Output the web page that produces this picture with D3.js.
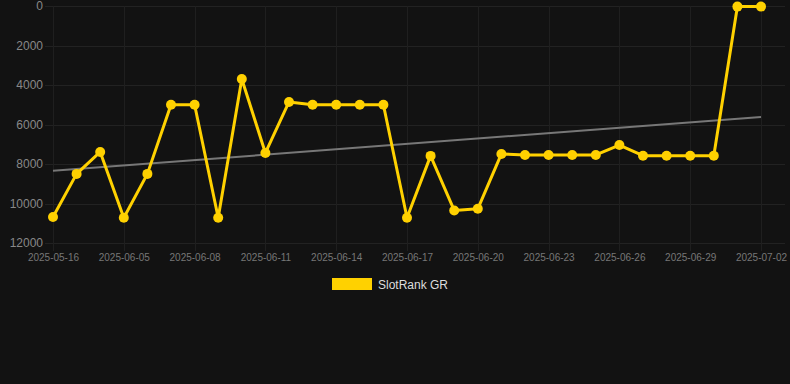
<!DOCTYPE html>
<html>
<head>
<meta charset="utf-8">
<script src="https://cdn.jsdelivr.net/npm/d3@7"></script>
<style>
  html, body { margin: 0; padding: 0; background: #121212; }
  svg { display: block; font-family: Arial, "Liberation Sans", sans-serif; }
</style>
</head>
<body>
<svg width="790" height="384"></svg>
<script>
// dates on the x axis (one per point)
var dates = ["2025-05-16", "2025-06-03", "2025-06-04", "2025-06-05", "2025-06-06", "2025-06-07",
  "2025-06-08", "2025-06-09", "2025-06-10", "2025-06-11", "2025-06-12", "2025-06-13",
  "2025-06-14", "2025-06-15", "2025-06-16", "2025-06-17", "2025-06-18", "2025-06-19",
  "2025-06-20", "2025-06-21", "2025-06-22", "2025-06-23", "2025-06-24", "2025-06-25",
  "2025-06-26", "2025-06-27", "2025-06-28", "2025-06-29", "2025-06-30", "2025-07-01",
  "2025-07-02"];

// rank values
var ranks = [10680, 8500, 7390, 10720, 8500, 5000, 5000, 10720, 3700, 7440, 4860, 5000,
  5000, 5000, 5000, 10720, 7590, 10350, 10270, 7490, 7540, 7540, 7540, 7540, 7040,
  7580, 7580, 7580, 7580, 30, 30];

var yTicks = [0, 2000, 4000, 6000, 8000, 10000, 12000];
var seriesName = "SlotRank GR";

var svg = d3.select("svg");
var plotLeft = 45, plotRight = 785, plotTop = 6, plotBottom = 243;

var x = d3.scalePoint().domain(dates).range([53, 761]);
var y = d3.scaleLinear().domain([0, 12000]).range([plotTop, plotBottom]);

var tickDates = dates.filter(function(d, i) { return i % 3 === 0; });

// horizontal grid
svg.append("g").selectAll("line")
  .data(yTicks).enter().append("line")
  .attr("x1", plotLeft).attr("x2", plotRight)
  .attr("y1", function(d) { return Math.round(y(d)) + 0.5; })
  .attr("y2", function(d) { return Math.round(y(d)) + 0.5; })
  .attr("stroke", "#222").attr("stroke-width", 1);

// vertical grid
svg.append("g").selectAll("line")
  .data(tickDates).enter().append("line")
  .attr("x1", function(d) { return Math.round(x(d)) + 0.5; })
  .attr("x2", function(d) { return Math.round(x(d)) + 0.5; })
  .attr("y1", plotTop).attr("y2", plotBottom + 8)
  .attr("stroke", "#1f1f1f").attr("stroke-width", 1);

// y axis labels
var yAxis = svg.append("g")
  .attr("transform", "translate(" + (plotLeft - 2) + ",0)")
  .call(d3.axisLeft(y).tickValues(yTicks).tickSize(0).tickPadding(0).tickFormat(d3.format("d")));
yAxis.select(".domain").remove();
yAxis.selectAll("text").attr("fill", "#888").style("font-size", "12px")
  .style("font-family", "Arial, 'Liberation Sans', sans-serif");

// x axis labels
var xAxis = svg.append("g")
  .attr("transform", "translate(0," + plotBottom + ")")
  .call(d3.axisBottom(x).tickValues(tickDates).tickSize(0).tickPadding(11));
xAxis.select(".domain").remove();
xAxis.selectAll("text").attr("fill", "#777").style("font-size", "10px")
  .style("font-family", "Arial, 'Liberation Sans', sans-serif");

// least squares trend line
var n = ranks.length;
var mx = d3.mean(ranks, function(d, i) { return i; });
var my = d3.mean(ranks);
var sxy = d3.sum(ranks, function(d, i) { return (i - mx) * (d - my); });
var sxx = d3.sum(ranks, function(d, i) { return (i - mx) * (i - mx); });
var slope = sxy / sxx;
var icpt = my - slope * mx;

svg.append("line")
  .attr("x1", x(dates[0])).attr("y1", y(icpt))
  .attr("x2", x(dates[n - 1])).attr("y2", y(icpt + slope * (n - 1)))
  .attr("stroke", "#777").attr("stroke-width", 2);

// main line
var line = d3.line()
  .x(function(d, i) { return x(dates[i]); })
  .y(function(d) { return y(d); });

svg.append("path")
  .datum(ranks)
  .attr("d", line)
  .attr("fill", "none")
  .attr("stroke", "#FFD100")
  .attr("stroke-width", 3)
  .attr("stroke-linejoin", "round");

svg.append("g").selectAll("circle")
  .data(ranks).enter().append("circle")
  .attr("cx", function(d, i) { return x(dates[i]); })
  .attr("cy", function(d) { return y(d); })
  .attr("r", 5)
  .attr("fill", "#FFD100");

// legend
var legend = svg.append("g").attr("transform", "translate(332,278)");
legend.append("rect").attr("width", 40).attr("height", 12).attr("fill", "#FFD100");
legend.append("text").attr("x", 46).attr("y", 11)
  .attr("fill", "#ddd").style("font-size", "12px")
  .text(seriesName);
</script>
</body>
</html>
